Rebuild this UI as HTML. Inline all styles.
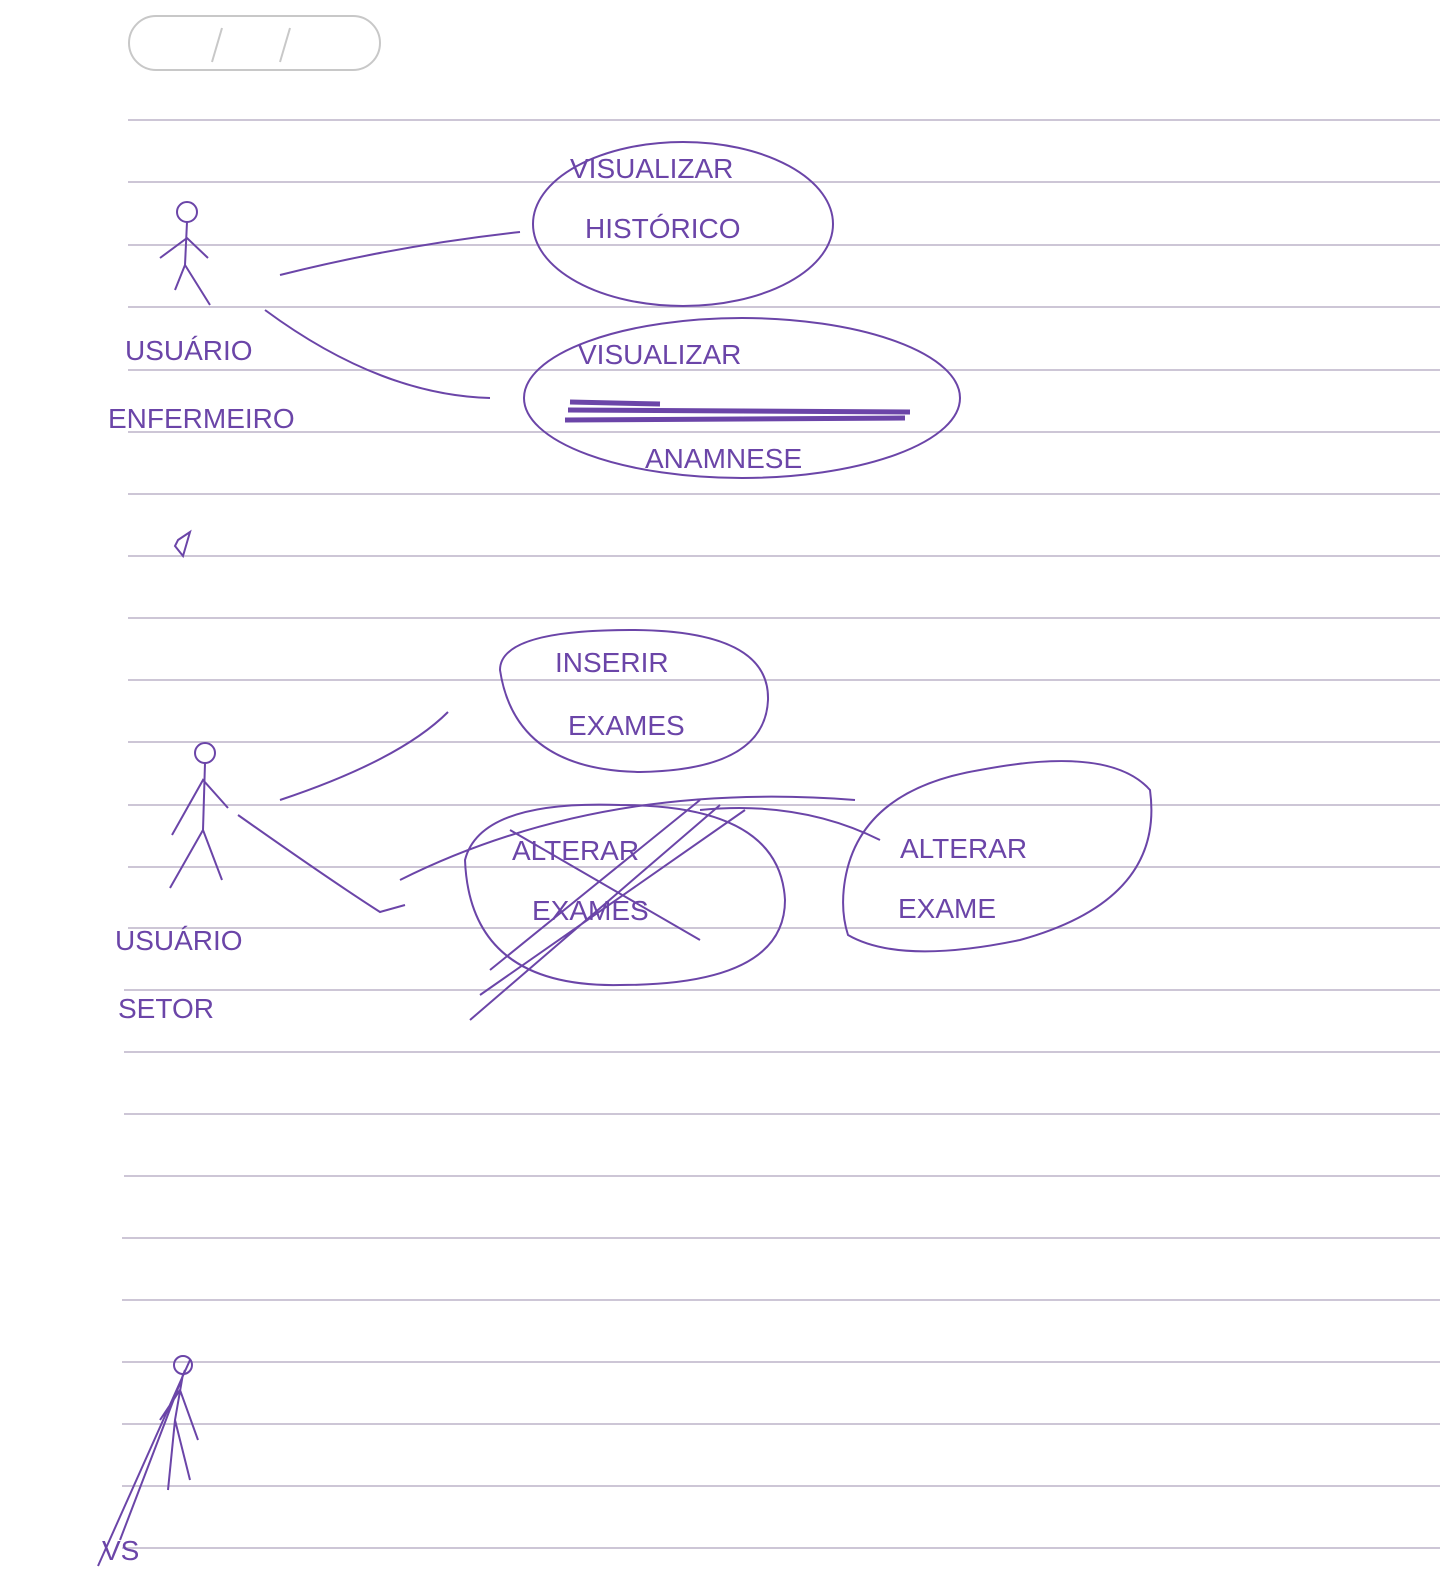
<!DOCTYPE html>
<html><head><style>
body{margin:0;background:#fff;}
svg{display:block}
text{font-family:"Liberation Sans",sans-serif;fill:#6b45a8;font-size:28px;}
</style></head><body>
<svg width="1456" height="1584" viewBox="0 0 1456 1584">
<rect width="1456" height="1584" fill="#fff"/>
<rect x="129" y="16" width="251" height="54" rx="27" fill="none" stroke="#c8c8c8" stroke-width="2"/>
<line x1="222" y1="28" x2="212" y2="62" stroke="#c8c8c8" stroke-width="2"/>
<line x1="290" y1="28" x2="280" y2="62" stroke="#c8c8c8" stroke-width="2"/>
<g stroke="#cdc6d6" stroke-width="2">
<line x1="128" y1="120" x2="1440" y2="120"/>
<line x1="128" y1="182" x2="1440" y2="182"/>
<line x1="128" y1="245" x2="1440" y2="245"/>
<line x1="128" y1="307" x2="1440" y2="307"/>
<line x1="128" y1="370" x2="1440" y2="370"/>
<line x1="128" y1="432" x2="1440" y2="432"/>
<line x1="128" y1="494" x2="1440" y2="494"/>
<line x1="128" y1="556" x2="1440" y2="556"/>
<line x1="128" y1="618" x2="1440" y2="618"/>
<line x1="128" y1="680" x2="1440" y2="680"/>
<line x1="128" y1="742" x2="1440" y2="742"/>
<line x1="128" y1="805" x2="1440" y2="805"/>
<line x1="128" y1="867" x2="1440" y2="867"/>
<line x1="128" y1="928" x2="1440" y2="928"/>
<line x1="124" y1="990" x2="1440" y2="990"/>
<line x1="124" y1="1052" x2="1440" y2="1052"/>
<line x1="124" y1="1114" x2="1440" y2="1114"/>
<line x1="124" y1="1176" x2="1440" y2="1176"/>
<line x1="122" y1="1238" x2="1440" y2="1238"/>
<line x1="122" y1="1300" x2="1440" y2="1300"/>
<line x1="122" y1="1362" x2="1440" y2="1362"/>
<line x1="122" y1="1424" x2="1440" y2="1424"/>
<line x1="122" y1="1486" x2="1440" y2="1486"/>
<line x1="122" y1="1548" x2="1440" y2="1548"/>
</g>
<g fill="none" stroke="#6b45a8" stroke-width="2">
<!-- actor 1 -->
<circle cx="187" cy="212" r="10"/>
<path d="M187 222 L185 265 M160 258 L187 238 L208 258 M185 265 L175 290 M185 265 L210 305"/>
<path d="M280 275 Q400 245 520 232"/>
<path d="M265 310 Q380 395 490 398"/>
<ellipse cx="683" cy="224" rx="150" ry="82"/>
<ellipse cx="742" cy="398" rx="218" ry="80"/>
<path d="M568 410 L910 412 M565 420 L905 418 M570 402 L660 404" stroke-width="5"/>
<!-- small mark -->
<path d="M178 540 L190 532 L183 556 L175 546 Z"/>
<!-- actor 2 -->
<circle cx="205" cy="753" r="10"/>
<path d="M205 763 L203 830 M172 835 L203 780 L228 808 M203 830 L170 888 M203 830 L222 880"/>
<path d="M280 800 Q400 760 448 712"/>
<path d="M238 815 Q330 880 380 912 L405 905"/>
<path d="M500 670 Q500 630 630 630 Q770 630 768 700 Q765 770 640 772 Q515 770 500 670 Z"/>
<path d="M465 860 Q480 800 620 805 Q780 805 785 900 Q785 985 620 985 Q470 988 465 860 Z"/>
<path d="M510 830 L700 940 M700 800 L490 970 M745 810 L480 995 M720 805 L470 1020 M400 880 Q600 780 855 800"/>
<path d="M845 880 Q860 790 980 770 Q1110 745 1150 790 Q1165 900 1020 940 Q900 965 848 935 Q840 910 845 880 Z"/>
<path d="M700 810 Q800 800 880 840"/>
<!-- actor 3 -->
<circle cx="183" cy="1365" r="9"/>
<path d="M183 1374 L175 1420 M160 1420 L180 1390 L198 1440 M175 1420 L168 1490 M175 1420 L190 1480 M190 1360 L98 1566 M185 1370 L120 1540"/>
</g>
<text x="570" y="178" font-size="26">VISUALIZAR</text>
<text x="585" y="238" font-size="26">HISTÓRICO</text>
<text x="578" y="364" font-size="26">VISUALIZAR</text>
<text x="645" y="468" font-size="28">ANAMNESE</text>
<text x="125" y="360" font-size="26">USUÁRIO</text>
<text x="108" y="428" font-size="26">ENFERMEIRO</text>
<text x="555" y="672" font-size="28">INSERIR</text>
<text x="568" y="735" font-size="28">EXAMES</text>
<text x="512" y="860" font-size="28">ALTERAR</text>
<text x="532" y="920" font-size="28">EXAMES</text>
<text x="900" y="858" font-size="40">ALTERAR</text>
<text x="898" y="918" font-size="40">EXAME</text>
<text x="115" y="950" font-size="28">USUÁRIO</text>
<text x="118" y="1018" font-size="28">SETOR</text>
<text x="102" y="1560" font-size="20">VS</text>
</svg>
</body></html>
